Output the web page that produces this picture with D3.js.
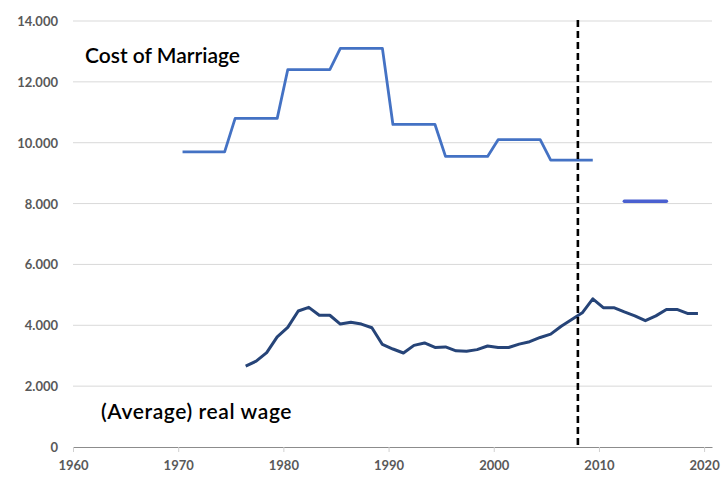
<!DOCTYPE html>
<html>
<head>
<meta charset="utf-8">
<script src="https://cdn.jsdelivr.net/npm/d3@7"></script>
<style>
  body { margin: 0; background: #fff; }
  svg text { font-family: Lato, "Open Sans", sans-serif; }
</style>
</head>
<body>
<div id="chart"></div>
<script>
// cost of marriage, annual values (first block 1970-2009, second block 2012-2016)
const costYears = d3.range(1970, 2010);
const costValues = [
  9700, 9700, 9700, 9700, 9700,
  10800, 10800, 10800, 10800, 10800,
  12400, 12400, 12400, 12400, 12400,
  13100, 13100, 13100, 13100, 13100,
  10600, 10600, 10600, 10600, 10600,
  9550, 9550, 9550, 9550, 9550,
  10100, 10100, 10100, 10100, 10100,
  9430, 9430, 9430, 9430, 9430
];
const costYears2 = [2012, 2013, 2014, 2015, 2016];
const costValues2 = [8080, 8080, 8080, 8080, 8080];

// (average) real wage, 1976-2019
const wageYears = d3.range(1976, 2020);
const wageValues = [
  2660, 2820, 3100, 3620, 3930, 4470, 4590, 4330, 4330, 4040,
  4100, 4040, 3920, 3370, 3220, 3090, 3340, 3420, 3270, 3290,
  3160, 3150, 3200, 3320, 3270, 3270, 3380, 3460, 3600, 3710,
  3970, 4190, 4410, 4870, 4580, 4580, 4440, 4310, 4150, 4310,
  4520, 4520, 4390, 4390
];

const yTicks = [0, 2000, 4000, 6000, 8000, 10000, 12000, 14000];
const xTicks = [1960, 1970, 1980, 1990, 2000, 2010, 2020];
const crisisYear = 2008;

const width = 727, height = 477;
const svg = d3.select('#chart').append('svg')
  .attr('width', width)
  .attr('height', height);

// annual values sit at mid-year-ish (June), ticks at Jan 1
const toDate = (y) => new Date(y, 5, 1);

const x = d3.scaleTime()
  .domain([new Date(1960, 0, 1), new Date(2020, 9, 1)])
  .range([73, 712]);
const y = d3.scaleLinear()
  .domain([0, 14000])
  .range([447, 21]);

const locale = d3.formatLocale({decimal: ',', thousands: '.', grouping: [3], currency: ['', '']});
const fmt = locale.format(',');

// gridlines
svg.append('g')
  .selectAll('line')
  .data(yTicks.filter(d => d > 0))
  .enter().append('line')
  .attr('x1', x.range()[0])
  .attr('x2', x.range()[1])
  .attr('y1', d => y(d))
  .attr('y2', d => y(d))
  .attr('stroke', '#d9d9d9')
  .attr('stroke-width', 1);

// y labels
svg.append('g')
  .selectAll('text')
  .data(yTicks)
  .enter().append('text')
  .attr('x', 58)
  .attr('y', d => y(d) + 5)
  .attr('text-anchor', 'end')
  .style('font-size', '13px')
  .style('font-weight', 'bold')
  .style('fill', '#595959')
  .text(d => fmt(d));

// x axis
const xAxis = d3.axisBottom(x)
  .tickValues(xTicks.map(t => new Date(t, 0, 1)))
  .tickSize(5)
  .tickSizeOuter(0)
  .tickPadding(9)
  .tickFormat(d3.timeFormat('%Y'));

const gx = svg.append('g')
  .attr('transform', `translate(0,${y(0)})`)
  .call(xAxis);
gx.select('.domain').attr('stroke', '#8c8c8c');
gx.selectAll('.tick line').attr('stroke', '#d0d0d0');
gx.selectAll('.tick text')
  .style('font-family', 'Lato, sans-serif')
  .style('font-size', '13px')
  .style('font-weight', 'bold')
  .style('fill', '#595959');

const line = d3.line()
  .x(d => x(toDate(d[0])))
  .y(d => y(d[1]));

svg.append('path')
  .datum(d3.zip(costYears, costValues))
  .attr('d', line)
  .attr('fill', 'none')
  .attr('stroke', '#4472c4')
  .attr('stroke-width', 2.8)
  .attr('stroke-linejoin', 'round');

svg.append('path')
  .datum(d3.zip(costYears2, costValues2))
  .attr('d', line)
  .attr('fill', 'none')
  .attr('stroke', '#4a60d0')
  .attr('stroke-width', 3.5)
  .attr('stroke-linecap', 'round');

svg.append('path')
  .datum(d3.zip(wageYears, wageValues))
  .attr('d', line)
  .attr('fill', 'none')
  .attr('stroke', '#264478')
  .attr('stroke-width', 3)
  .attr('stroke-linejoin', 'round');

// crisis marker
svg.append('line')
  .attr('x1', x(new Date(crisisYear, 0, 1)))
  .attr('x2', x(new Date(crisisYear, 0, 1)))
  .attr('y1', 20)
  .attr('y2', y(0))
  .attr('stroke', '#000')
  .attr('stroke-width', 2.6)
  .attr('stroke-dasharray', '7,4');

// series labels
svg.append('text')
  .attr('x', 85)
  .attr('y', 63)
  .style('font-size', '21px')
  .style('font-weight', '600')
  .style('fill', '#000')
  .text('Cost of Marriage');

svg.append('text')
  .attr('x', 101)
  .attr('y', 419)
  .style('font-size', '21px')
  .style('font-weight', '600')
  .style('letter-spacing', '0.6px')
  .style('fill', '#000')
  .text('(Average) real wage');
</script>
</body>
</html>
